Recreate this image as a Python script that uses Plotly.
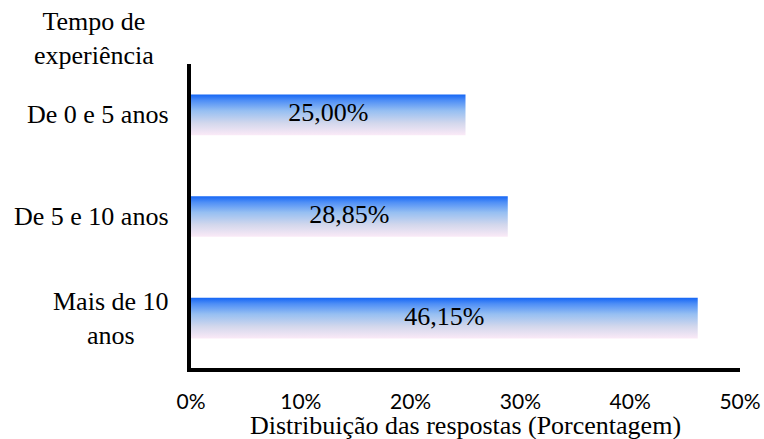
import plotly.graph_objects as go

categories = ["De 0 e 5 anos", "De 5 e 10 anos", "Mais de 10<br>anos"]
values = [25.00, 28.85, 46.15]
x_ticks = [0, 10, 20, 30, 40, 50]
x_title = "Distribuição das respostas (Porcentagem)"
y_title = "Tempo de<br>experiência"

SERIF = "Liberation Serif"
SANS = "Lato"
FS = 26
BAR_H = 0.4
n = len(categories)
ypos = [n - 1 - i for i in range(n)]

grad = [[0.0, "#fbeaf7"], [0.3, "#d2d7ec"], [0.6, "#96bff2"],
        [0.85, "#4f8ff6"], [1.0, "#1566f5"]]

fig = go.Figure()
for v, y in zip(values, ypos):
    fig.add_trace(go.Scatter(
        x=[0, v, v, 0, 0],
        y=[y - BAR_H / 2, y - BAR_H / 2, y + BAR_H / 2, y + BAR_H / 2, y - BAR_H / 2],
        mode="lines", fill="toself", line=dict(width=0, color="rgba(0,0,0,0)"),
        fillgradient=dict(type="vertical", colorscale=grad),
        hoverinfo="skip", showlegend=False))

fig.add_trace(go.Scatter(
    x=[v / 2 for v in values], y=ypos, mode="text",
    text=[f"{v:.2f}".replace(".", ",") + "%" for v in values],
    textfont=dict(family=SERIF, size=FS, color="black"),
    hoverinfo="skip", showlegend=False))

for c, y in zip(categories, ypos):
    fig.add_annotation(x=0, y=y, xref="x", yref="y", text=c, showarrow=False,
                       xanchor="right", yanchor="middle", align="center", xshift=-20,
                       font=dict(family=SERIF, size=FS, color="black"))

fig.add_annotation(x=-0.177, y=1.085, xref="paper", yref="paper", text=y_title,
                   showarrow=False, xanchor="center", yanchor="middle", align="center",
                   font=dict(family=SERIF, size=FS, color="black"))

fig.add_annotation(x=0.5, y=-0.19, xref="paper", yref="paper", text=x_title,
                   showarrow=False, xanchor="center", yanchor="middle",
                   font=dict(family=SERIF, size=26, color="black"))

fig.update_layout(
    width=764, height=439,
    margin=dict(l=191, r=24, t=64, b=71, autoexpand=False),
    paper_bgcolor="white", plot_bgcolor="white",
    xaxis=dict(range=[0, 50], tickvals=x_ticks, ticktext=[f"{t}%" for t in x_ticks],
               showline=True, linecolor="black", linewidth=3.5, showgrid=False,
               zeroline=False, ticks="", ticklabelstandoff=12, automargin=False,
               tickfont=dict(family=SANS, size=21, color="black")),
    yaxis=dict(range=[-0.49, 2.5], showline=True, linecolor="black", linewidth=3.5,
               showgrid=False, zeroline=False, showticklabels=False, ticks="",
               automargin=False),
)

fig.write_html("out.html")
